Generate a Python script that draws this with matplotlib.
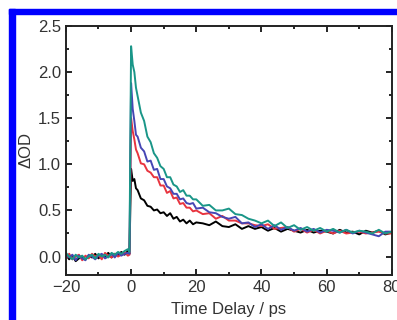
import numpy as np
import matplotlib
matplotlib.use("Agg")
import matplotlib.pyplot as plt
from matplotlib.patches import Rectangle
from matplotlib.ticker import MultipleLocator

plt.rcParams['font.family'] = ['Liberation Sans', 'DejaVu Sans']

# time axis (ps)
t = ([-20, -19, -18, -17, -16, -15, -14, -13, -12, -11,
      -10, -9, -8, -7, -6, -5, -4, -3, -2, -1, -0.5,
      0, 0.5, 1, 1.5]
     + list(range(2, 21))
     + list(range(22, 81, 2)))

black = ([0.02, -0.03, 0.01, -0.05, -0.02, 0.00, -0.03, 0.01, -0.01, 0.03,
          -0.02, 0.02, 0.00, 0.04, -0.01, 0.03, 0.01, 0.05, 0.02, 0.06, 0.03,
          0.95, 0.82, 0.84, 0.74,
          0.72, 0.63, 0.61, 0.55, 0.54, 0.50, 0.51, 0.47, 0.48, 0.44,
          0.47, 0.41, 0.43, 0.38, 0.40, 0.36, 0.39, 0.35, 0.37,
          0.36, 0.34, 0.38, 0.33, 0.32, 0.35, 0.30, 0.33, 0.30, 0.32,
          0.28, 0.31, 0.27, 0.30, 0.28, 0.26, 0.29, 0.26, 0.28, 0.27,
          0.25, 0.29, 0.26, 0.27, 0.24, 0.28, 0.26, 0.28, 0.24, 0.26])

red = ([-0.02, 0.03, -0.03, 0.00, 0.02, -0.04, 0.01, -0.02, 0.03, 0.00,
        0.02, -0.03, 0.04, 0.01, -0.01, 0.03, 0.00, 0.02, 0.05, 0.01, 0.02,
        1.50, 1.36, 1.27, 1.16,
        1.12, 1.01, 1.00, 0.93, 0.91, 0.86, 0.86, 0.77, 0.77, 0.69,
        0.71, 0.63, 0.64, 0.57, 0.58, 0.53, 0.53, 0.49, 0.50,
        0.46, 0.47, 0.41, 0.44, 0.39, 0.39, 0.36, 0.36, 0.34, 0.33,
        0.35, 0.30, 0.31, 0.32, 0.27, 0.30, 0.26, 0.29, 0.25, 0.28,
        0.25, 0.28, 0.25, 0.26, 0.27, 0.25, 0.26, 0.27, 0.25, 0.25])

blue = ([0.03, -0.01, 0.02, -0.04, 0.01, -0.02, -0.04, 0.02, 0.00, -0.03,
         0.01, 0.03, -0.02, 0.00, 0.03, -0.01, 0.04, 0.01, 0.03, 0.04, 0.03,
         1.88, 1.60, 1.47, 1.32,
         1.30, 1.18, 1.14, 1.03, 1.04, 0.94, 0.95, 0.84, 0.84, 0.76,
         0.74, 0.68, 0.68, 0.62, 0.63, 0.58, 0.57, 0.58, 0.52,
         0.53, 0.48, 0.47, 0.43, 0.41, 0.43, 0.36, 0.37, 0.32, 0.35,
         0.30, 0.34, 0.29, 0.32, 0.28, 0.31, 0.27, 0.30, 0.26, 0.29,
         0.28, 0.26, 0.29, 0.25, 0.28, 0.26, 0.24, 0.22, 0.27, 0.27])

teal = ([0.04, 0.00, -0.03, 0.02, -0.01, 0.01, -0.03, 0.00, 0.02, -0.02,
         0.03, 0.00, 0.02, -0.01, 0.04, 0.02, 0.05, 0.03, 0.06, 0.08, 0.05,
         2.28, 2.08, 2.00, 1.83,
         1.74, 1.56, 1.47, 1.30, 1.24, 1.12, 1.07, 0.98, 0.95, 0.86,
         0.86, 0.78, 0.76, 0.70, 0.72, 0.66, 0.66, 0.62, 0.62,
         0.55, 0.56, 0.50, 0.50, 0.52, 0.46, 0.45, 0.41, 0.39, 0.36,
         0.39, 0.33, 0.37, 0.31, 0.34, 0.29, 0.32, 0.28, 0.31, 0.27,
         0.30, 0.26, 0.29, 0.26, 0.28, 0.27, 0.25, 0.29, 0.25, 0.27])

fig = plt.figure(figsize=(3.97, 3.2), dpi=100)
ax = fig.add_axes([0.166, 0.1406, 0.821, 0.7784])

ax.plot(t, black, color='black', lw=1.4)
ax.plot(t, red, color='#e8343f', lw=1.4)
ax.plot(t, blue, color='#4646b4', lw=1.4)
ax.plot(t, teal, color='#1a9688', lw=1.4)

ax.set_xlim(-20, 80)
ax.set_ylim(-0.2, 2.5)
ax.xaxis.set_major_locator(MultipleLocator(20))
ax.xaxis.set_minor_locator(MultipleLocator(10))
ax.yaxis.set_major_locator(MultipleLocator(0.5))
ax.yaxis.set_minor_locator(MultipleLocator(0.25))
ax.yaxis.set_major_formatter(matplotlib.ticker.FormatStrFormatter('%.1f'))
ax.tick_params(which='both', direction='in', top=True, right=True,
               labelsize=12, labelcolor='#333333', width=1.2)
ax.tick_params(which='major', length=4)
ax.tick_params(which='minor', length=2.5)
for s in ax.spines.values():
    s.set_linewidth(1.4)
    s.set_color('#222222')

ax.set_xlabel('Time Delay / ps', fontsize=12, color='#333333', labelpad=5)
ax.set_ylabel('ΔOD', fontsize=12, color='#333333', labelpad=3)

# blue frame around the figure
fig.patches.append(Rectangle((9 / 397, 1 - 14 / 320), 1 - 9 / 397, 5 / 320,
                             transform=fig.transFigure, color='#0000ff', zorder=0))
fig.patches.append(Rectangle((9 / 397, 0), 6 / 397, 1 - 9 / 320,
                             transform=fig.transFigure, color='#0000ff', zorder=0))

fig.savefig('out.png', dpi=100)
